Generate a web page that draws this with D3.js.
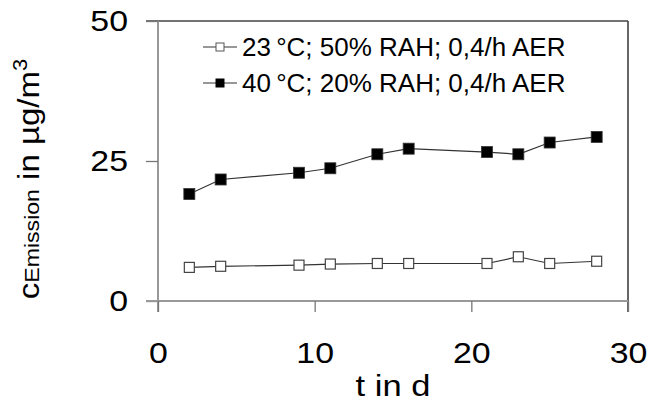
<!DOCTYPE html>
<html lang="en">
<head>
<meta charset="utf-8">
<title>Emission over time</title>
<script src="https://cdn.jsdelivr.net/npm/d3@7"></script>
<style>
  body { margin: 0; background: #fff; }
  text { font-family: "Liberation Sans", Arial, sans-serif; fill: #000; }
  .tick text { font-size: 30px; }
  .legend text { font-size: 26px; }
  .axis-title { font-size: 30px; }
</style>
</head>
<body>
<div id="chart"></div>
<script>
// values
var days = [2, 4, 9, 11, 14, 16, 21, 23, 25, 28];
var series23 = [6.0, 6.2, 6.4, 6.6, 6.7, 6.7, 6.7, 7.9, 6.7, 7.1];
var series40 = [19.1, 21.7, 22.9, 23.7, 26.2, 27.2, 26.6, 26.2, 28.3, 29.3];
var legendLabels = ["23\u2009°C; 50% RAH; 0,4/h AER", "40\u2009°C; 20% RAH; 0,4/h AER"];
var xTicks = [0, 10, 20, 30];
var yTicks = [0, 25, 50];

var width = 652, height = 402,
    margin = {top: 21, right: 24, bottom: 101, left: 158},
    stretch = 1.13;   // the original lettering is a bit wider than Arial

var svg = d3.select("#chart").append("svg")
    .attr("width", width)
    .attr("height", height);

var x = d3.scaleLinear().domain([0, 30]).range([margin.left, width - margin.right]);
var y = d3.scaleLinear().domain([0, 50]).range([height - margin.bottom, margin.top]);

// frame: top and right lines
svg.append("line")
   .attr("x1", x(0) - 12).attr("x2", x(30))
   .attr("y1", y(50)).attr("y2", y(50))
   .attr("stroke", "#444").attr("stroke-width", 1.3);
svg.append("line")
   .attr("x1", x(30)).attr("x2", x(30))
   .attr("y1", y(50)).attr("y2", y(0) + 11)
   .attr("stroke", "#333").attr("stroke-width", 1.5);

var yAxis = svg.append("g")
   .attr("transform", "translate(" + x(0) + ",0)")
   .call(d3.axisLeft(y).tickValues(yTicks).tickSize(12).tickSizeOuter(0).tickPadding(18));

var xAxis = svg.append("g")
   .attr("transform", "translate(0," + y(0) + ")")
   .call(d3.axisBottom(x).tickValues(xTicks).tickSize(11).tickSizeOuter(0).tickPadding(30));

[yAxis, xAxis].forEach(function(a) {
  a.select(".domain").attr("stroke", "#999").attr("stroke-width", 2);
  a.selectAll(".tick line").attr("stroke", "#777").attr("stroke-width", 1.3);
  a.selectAll(".tick text").attr("fill", "#000");
});
xAxis.select(".domain").attr("d", "M" + (x(0) - 12) + ",0H" + x(30));
yAxis.select(".domain").attr("d", "M0," + y(50) + "V" + (y(0) + 11));

// widen the tick labels around their anchor
xAxis.selectAll(".tick text").attr("transform", "scale(" + stretch + ",1)");
yAxis.selectAll(".tick text")
   .attr("x", -30 / stretch)
   .attr("transform", "scale(" + stretch + ",1)");

svg.append("text")
   .attr("class", "axis-title")
   .attr("transform", "translate(" + ((x(0) + x(30)) / 2) + ",396) scale(1.15,1)")
   .attr("text-anchor", "middle")
   .text("t in d");

var yt = svg.append("text")
   .attr("class", "axis-title")
   .attr("transform", "translate(39,179) rotate(-90) scale(1.1,1)")
   .attr("text-anchor", "middle");
yt.append("tspan").text("c");
yt.append("tspan").style("font-size", "21px").text("Emission");
yt.append("tspan").text(" in µg/m");
yt.append("tspan").style("font-size", "20px").attr("dy", -12).text("3");

var line = d3.line()
    .x(function(d) { return x(d[0]); })
    .y(function(d) { return y(d[1]); });

var data23 = days.map(function(d, i) { return [d, series23[i]]; });
var data40 = days.map(function(d, i) { return [d, series40[i]]; });

svg.append("path").datum(data23).attr("d", line)
   .attr("fill", "none").attr("stroke", "#333").attr("stroke-width", 1.2);
svg.append("path").datum(data40).attr("d", line)
   .attr("fill", "none").attr("stroke", "#333").attr("stroke-width", 1.2);

svg.selectAll(".open").data(data23).enter().append("rect")
   .attr("x", function(d) { return x(d[0]) - 5; })
   .attr("y", function(d) { return y(d[1]) - 5; })
   .attr("width", 10).attr("height", 10)
   .attr("fill", "#fff").attr("stroke", "#444").attr("stroke-width", 1.2);

svg.selectAll(".filled").data(data40).enter().append("rect")
   .attr("x", function(d) { return x(d[0]) - 5.5; })
   .attr("y", function(d) { return y(d[1]) - 5.5; })
   .attr("width", 11).attr("height", 11)
   .attr("fill", "#000").attr("stroke", "#333").attr("stroke-width", 0.8);

// legend
var legend = svg.append("g").attr("class", "legend");
var rows = [47, 83];
legendLabels.forEach(function(lbl, i) {
  var g = legend.append("g").attr("transform", "translate(0," + rows[i] + ")");
  g.append("line").attr("x1", 203).attr("x2", 237).attr("y1", 0).attr("y2", 0)
   .attr("stroke", "#333").attr("stroke-width", 1.2);
  if (i === 0) {
    g.append("rect").attr("x", 216).attr("y", -4).attr("width", 8).attr("height", 8)
     .attr("fill", "#fff").attr("stroke", "#555").attr("stroke-width", 1);
  } else {
    g.append("rect").attr("x", 215.5).attr("y", -4.5).attr("width", 9).attr("height", 9)
     .attr("fill", "#000");
  }
  g.append("text").attr("x", 242).attr("y", 9).text(lbl);
});
</script>
</body>
</html>
